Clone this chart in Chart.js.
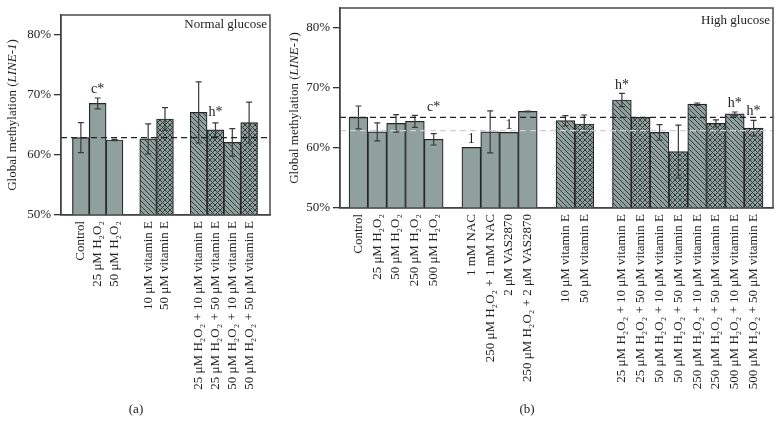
<!DOCTYPE html>
<html>
<head>
<meta charset="utf-8">
<script src="https://cdn.jsdelivr.net/npm/chart.js@4.4.1/dist/chart.umd.min.js"></script>
<style>
  html, body { margin: 0; padding: 0; background: #fff; }
  #wrap { position: relative; width: 782px; height: 435px; overflow: hidden; }
  canvas { position: absolute; top: 0; }
  #chartA { left: 0; }
  #chartB { left: 285px; }
</style>
</head>
<body>
<div id="wrap">
  <canvas id="chartA" width="285" height="435"></canvas>
  <canvas id="chartB" width="497" height="435"></canvas>
</div>
<script>
// (a) normal glucose
const labelsA = [
  "Control", "25 μM H₂O₂", "50 μM H₂O₂", "",
  "10 μM vitamin E", "50 μM vitamin E", "",
  "25 μM H₂O₂ + 10 μM vitamin E", "25 μM H₂O₂ + 50 μM vitamin E",
  "50 μM H₂O₂ + 10 μM vitamin E", "50 μM H₂O₂ + 50 μM vitamin E"
];
const valuesA = [62.9, 68.6, 62.5, null, 62.7, 66.0, null, 67.1, 64.2, 62.1, 65.4];
const errorsA = [2.5, 0.9, 0.1, null, 2.5, 1.9, null, 5.1, 1.15, 2.3, 3.4];
const fillsA = ["solid", "solid", "solid", null, "diag", "cross", null, "diag", "cross", "diag", "cross"];
const notesA = [{ i: 1, text: "c*", v: 70.3 }, { i: 8, text: "h*", v: 66.55 }];

// (b) high glucose
const labelsB = [
  "Control", "25 μM H₂O₂", "50 μM H₂O₂", "250 μM H₂O₂", "500 μM H₂O₂", "",
  "1 mM NAC", "250 μM H₂O₂ + 1 mM NAC", "2 μM VAS2870", "250 μM H₂O₂ + 2 μM VAS2870", "",
  "10 μM vitamin E", "50 μM vitamin E", "",
  "25 μM H₂O₂ + 10 μM vitamin E", "25 μM H₂O₂ + 50 μM vitamin E",
  "50 μM H₂O₂ + 10 μM vitamin E", "50 μM H₂O₂ + 50 μM vitamin E",
  "250 μM H₂O₂ + 10 μM vitamin E", "250 μM H₂O₂ + 50 μM vitamin E",
  "500 μM H₂O₂ + 10 μM vitamin E", "500 μM H₂O₂ + 50 μM vitamin E"
];
const valuesB = [65.1, 62.7, 64.1, 64.45, 61.45, null, 60.1, 62.7, 62.6, 66.1, null,
  64.55, 64.0, null, 68.0, 65.1, 62.6, 59.4, 67.3, 64.1, 65.7, 63.3];
const errorsB = [1.9, 1.5, 1.45, 1.0, 0.95, null, 0, 3.5, 0, 0.05, null,
  0.85, 1.5, null, 1.1, 0, 1.3, 4.4, 0.2, 0.6, 0.3, 1.3];
const fillsB = ["solid", "solid", "solid", "solid", "solid", null, "solid", "solid", "solid", "solid", null,
  "diag", "cross", null, "diag", "cross", "diag", "cross", "diag", "cross", "diag", "cross"];
const notesB = [
  { i: 4, text: "c*", v: 66.2 }, { i: 6, text: "1", v: 60.8 }, { i: 8, text: "1", v: 63.2 },
  { i: 14, text: "h*", v: 69.8 }, { i: 20, text: "h*", v: 66.8 }, { i: 21, text: "h*", v: 65.5 }
];

// reference levels (controls)
const ngControl = 62.9;
const hgControl = 65.1;
const yTicks = [50, 60, 70, 80];

const SERIF = '"Liberation Serif", "DejaVu Serif", serif';
const BAR = "#8fa09d";
const HATCH = "#2e3b39";
const INK = "#222";
const AXIS = "#333";

function makeFill(kind) {
  if (kind !== "diag" && kind !== "cross") return BAR;
  const n = 5;
  const c = document.createElement("canvas");
  c.width = n; c.height = n;
  const g = c.getContext("2d");
  g.fillStyle = BAR;
  g.fillRect(0, 0, n, n);
  g.strokeStyle = HATCH;
  g.lineWidth = 1;
  g.beginPath();
  g.moveTo(-1, -1); g.lineTo(n + 1, n + 1);
  g.moveTo(-1, n - 1); g.lineTo(1, n + 1);
  g.moveTo(n - 1, -1); g.lineTo(n + 1, 1);
  if (kind === "cross") {
    g.moveTo(-1, n + 1); g.lineTo(n + 1, -1);
    g.moveTo(-1, 1); g.lineTo(1, -1);
    g.moveTo(n - 1, n + 1); g.lineTo(n + 1, n - 1);
  }
  g.stroke();
  return g.createPattern(c, "repeat");
}

function drawYTitle(ctx, cx, cy) {
  const parts = [["Global methylation (", ""], ["LINE-1", "italic "], [")", ""]];
  ctx.save();
  ctx.translate(cx, cy);
  ctx.rotate(-Math.PI / 2);
  ctx.fillStyle = INK;
  ctx.textBaseline = "middle";
  ctx.textAlign = "left";
  let total = 0;
  parts.forEach(p => { ctx.font = p[1] + "13px " + SERIF; total += ctx.measureText(p[0]).width; });
  let x = -total / 2;
  parts.forEach(p => {
    ctx.font = p[1] + "13px " + SERIF;
    ctx.fillText(p[0], x, 0);
    x += ctx.measureText(p[0]).width;
  });
  ctx.restore();
}

function panelPlugin(cfg) {
  return {
    id: "panel",
    afterDatasetsDraw(chart) {
      const { ctx, chartArea: a, scales: { x, y } } = chart;
      ctx.save();
      // error bars
      ctx.strokeStyle = "#3a3a3a";
      ctx.lineWidth = 1.2;
      cfg.values.forEach((v, i) => {
        const e = cfg.errors[i];
        if (v === null || !e) return;
        const px = x.getPixelForValue(i);
        const t = y.getPixelForValue(v + e);
        const b = y.getPixelForValue(v - e);
        ctx.beginPath();
        ctx.moveTo(px, t); ctx.lineTo(px, b);
        ctx.moveTo(px - 3, t); ctx.lineTo(px + 3, t);
        ctx.moveTo(px - 3, b); ctx.lineTo(px + 3, b);
        ctx.stroke();
      });
      // dashed control levels
      cfg.refs.forEach(r => {
        const py = y.getPixelForValue(r.v);
        ctx.strokeStyle = r.color;
        ctx.lineWidth = 1.2;
        ctx.setLineDash([6, 4]);
        ctx.beginPath();
        ctx.moveTo(a.left, py); ctx.lineTo(a.right, py);
        ctx.stroke();
      });
      ctx.setLineDash([]);
      // significance marks
      ctx.fillStyle = INK;
      ctx.font = "14px " + SERIF;
      ctx.textAlign = "center";
      ctx.textBaseline = "alphabetic";
      cfg.notes.forEach(n => {
        ctx.fillText(n.text, x.getPixelForValue(n.i), y.getPixelForValue(n.v));
      });
      // frame
      ctx.strokeStyle = "#4a4a4a";
      ctx.lineWidth = 1.5;
      ctx.strokeRect(a.left, a.top, a.right - a.left, a.bottom - a.top);
      // panel title
      ctx.font = "13px " + SERIF;
      ctx.textAlign = "right";
      ctx.fillText(cfg.title, a.right - 3, a.top + cfg.titleDy);
      ctx.restore();
    },
    afterDraw(chart) {
      const ctx = chart.ctx;
      drawYTitle(ctx, cfg.yTitleX, (chart.chartArea.top + chart.chartArea.bottom) / 2);
      ctx.save();
      ctx.fillStyle = INK;
      ctx.font = "13px " + SERIF;
      ctx.textAlign = "center";
      ctx.textBaseline = "middle";
      ctx.fillText(cfg.letter, cfg.letterX, 410);
      ctx.restore();
    }
  };
}

function buildChart(id, cfg) {
  const fills = cfg.fills.map(makeFill);
  return new Chart(document.getElementById(id), {
    type: "bar",
    data: {
      datasets: [{
        data: cfg.values.map((v, i) => ({ x: i, y: v })),
        backgroundColor: fills,
        borderColor: "#262626",
        borderWidth: 1.2,
        categoryPercentage: 1,
        barPercentage: 1
      }]
    },
    options: {
      responsive: false,
      animation: false,
      layout: { padding: cfg.padding },
      plugins: { legend: { display: false }, tooltip: { enabled: false } },
      scales: {
        x: {
          type: "linear",
          min: cfg.xMin,
          max: cfg.xMax,
          offset: false,
          grid: { display: false, drawTicks: false },
          border: { display: true, color: AXIS, width: 1.3 },
          afterBuildTicks: s => { s.ticks = cfg.labels.map((_, i) => ({ value: i })); },
          afterFit: s => {
            s.height = cfg.xHeight;
            s.paddingLeft = 0; s.paddingRight = 0;
          },
          ticks: {
            autoSkip: false,
            minRotation: 90,
            maxRotation: 90,
            padding: 6,
            color: INK,
            font: { family: SERIF, size: 13 },
            callback: v => cfg.labels[v]
          }
        },
        y: {
          min: 50,
          max: 83.33,
          afterBuildTicks: s => { s.ticks = yTicks.map(v => ({ value: v })); },
          afterFit: s => {
            s.width = cfg.yWidth;
            s.paddingTop = 0; s.paddingBottom = 0;
          },
          grid: { drawOnChartArea: false, drawTicks: true, tickLength: 7, color: AXIS, lineWidth: 1.3 },
          border: { display: true, color: AXIS, width: 1.3 },
          ticks: {
            padding: 3,
            color: INK,
            font: { family: SERIF, size: 13 },
            callback: v => v + "%"
          }
        }
      }
    },
    plugins: [panelPlugin(cfg)]
  });
}

buildChart("chartA", {
  labels: labelsA, values: valuesA, errors: errorsA, fills: fillsA, notes: notesA,
  refs: [{ v: ngControl, color: "#222" }],
  title: "Normal glucose", titleDy: 13, letter: "(a)", letterX: 136, yTitleX: 13,
  xMin: -1.18, xMax: 11.24, xHeight: 220, yWidth: 61,
  padding: { top: 15, right: 15, left: 0, bottom: 0 }
});

buildChart("chartB", {
  labels: labelsB, values: valuesB, errors: errorsB, fills: fillsB, notes: notesB,
  refs: [{ v: ngControl, color: "#cfcfcf" }, { v: hgControl, color: "#222" }],
  title: "High glucose", titleDy: 16, letter: "(b)", letterX: 242, yTitleX: 10,
  xMin: -0.98, xMax: 22.03, xHeight: 227, yWidth: 55,
  padding: { top: 8, right: 9, left: 0, bottom: 0 }
});
</script>
</body>
</html>
